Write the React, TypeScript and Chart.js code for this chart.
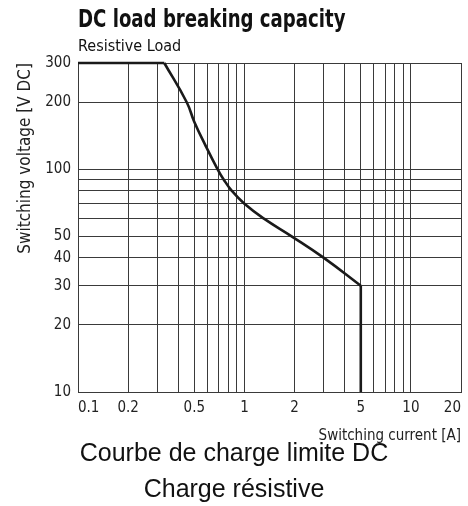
import React, { useEffect, useRef } from "react";
import { Chart, registerables } from "chart.js";

Chart.register(...registerables);

// Grid and tick values
const xGridValues = [0.1, 0.2, 0.3, 0.4, 0.5, 0.6, 0.7, 0.8, 0.9, 1, 2, 3, 4, 5, 6, 7, 8, 9, 10, 20];
const xTickLabels = [0.1, 0.2, 0.5, 1, 2, 5, 10, 20];
const yGridValues = [10, 20, 30, 40, 50, 60, 70, 80, 90, 100, 200, 300];
const yTickLabels = [10, 20, 30, 40, 50, 100, 200, 300];

// Limit curve (current in A, voltage in V DC)
const flatCurrent = [0.1, 0.33];
const flatVoltage = [300, 300];
const curveCurrent = [0.33, 0.45, 0.5, 0.58, 0.69, 0.75, 0.84, 1.0, 1.31, 1.92, 3, 5];
const curveVoltage = [300, 200, 163, 129, 100, 90, 80, 70, 60, 50, 40, 30];
const cutoffCurrent = [5, 5];
const cutoffVoltage = [30, 10];

const NARROW = "'Liberation Sans Narrow', 'DejaVu Sans Condensed', 'Roboto Condensed', 'Liberation Sans', sans-serif";
const GRID = "#3a3a3a";
const INK = "#1a1a1a";

const toPts = (xs: number[], ys: number[]) => xs.map((x, i) => ({ x, y: ys[i] }));

export default function App() {
  const ref = useRef<HTMLCanvasElement | null>(null);

  useEffect(() => {
    if (!ref.current) return;
    const lineDs = (data: { x: number; y: number }[], tension: number) => ({
      data,
      borderColor: INK,
      borderWidth: 2.6,
      pointRadius: 0,
      fill: false,
      clip: false,
      tension,
    });
    const chart = new Chart(ref.current, {
      type: "line",
      data: {
        datasets: [
          lineDs(toPts(flatCurrent, flatVoltage), 0),
          lineDs(toPts(curveCurrent, curveVoltage), 0.45),
          lineDs(toPts(cutoffCurrent, cutoffVoltage), 0),
        ],
      },
      options: {
        responsive: false,
        animation: false,
        layout: { padding: { left: 0, top: 63, right: 5, bottom: 0 } },
        plugins: { legend: { display: false }, tooltip: { enabled: false }, title: { display: false } },
        scales: {
          x: {
            type: "logarithmic",
            min: 0.1,
            max: 20,
            afterBuildTicks: (scale: any) => {
              scale.ticks = xGridValues.map((v) => ({ value: v }));
            },
            afterFit: (scale: any) => {
              scale.height = 114;
            },
            grid: { color: GRID, lineWidth: 1, drawTicks: false },
            border: { color: GRID, width: 1 },
            ticks: {
              autoSkip: false,
              maxRotation: 0,
              align: "inner",
              padding: 7,
              color: "#222",
              font: { family: NARROW, size: 15 },
              callback: (v: any) => (xTickLabels.includes(Number(v)) ? String(v) : ""),
            },
            title: {
              display: true,
              text: "Switching current [A]",
              align: "end",
              color: "#222",
              font: { family: NARROW, size: 15 },
              padding: { top: 0, bottom: 61 },
            },
          },
          y: {
            type: "logarithmic",
            min: 10,
            max: 300,
            afterBuildTicks: (scale: any) => {
              scale.ticks = yGridValues.map((v) => ({ value: v }));
            },
            afterFit: (scale: any) => {
              scale.width = 78;
            },
            grid: { color: GRID, lineWidth: 1, drawTicks: false },
            border: { color: GRID, width: 1 },
            ticks: {
              autoSkip: false,
              padding: 7,
              color: "#222",
              font: { family: NARROW, size: 15 },
              callback: (v: any) => (yTickLabels.includes(Number(v)) ? String(v) : ""),
            },
            title: {
              display: true,
              text: "Switching voltage [V DC]",
              align: "end",
              color: "#222",
              font: { family: NARROW, size: 17 },
              padding: { top: 15, bottom: 0 },
            },
          },
        },
      },
    } as any);
    return () => chart.destroy();
  }, []);

  const abs = (top: number, extra: React.CSSProperties): React.CSSProperties => ({
    position: "absolute",
    top,
    lineHeight: 1,
    whiteSpace: "nowrap",
    color: "#111",
    ...extra,
  });

  const caption = "'Liberation Sans', Arial, sans-serif";

  return (
    <div style={{ position: "absolute", left: 0, top: 0, width: 468, height: 506, background: "#fff" }}>
      <canvas ref={ref} width={468} height={506} style={{ display: "block", position: "absolute", left: 0, top: 0 }} />
      <div
        style={abs(7, {
          left: 78,
          fontFamily: NARROW,
          fontWeight: 700,
          fontSize: 24,
          transform: "scaleX(0.84)",
          transformOrigin: "0 0",
        })}
      >
        DC load breaking capacity
      </div>
      <div style={abs(38, { left: 78, fontFamily: NARROW, fontSize: 16 })}>Resistive Load</div>
      <div style={abs(440, { left: 0, width: 468, textAlign: "center", fontFamily: caption, fontSize: 25 })}>
        Courbe de charge limite DC
      </div>
      <div style={abs(476, { left: 0, width: 468, textAlign: "center", fontFamily: caption, fontSize: 25 })}>
        Charge résistive
      </div>
    </div>
  );
}
